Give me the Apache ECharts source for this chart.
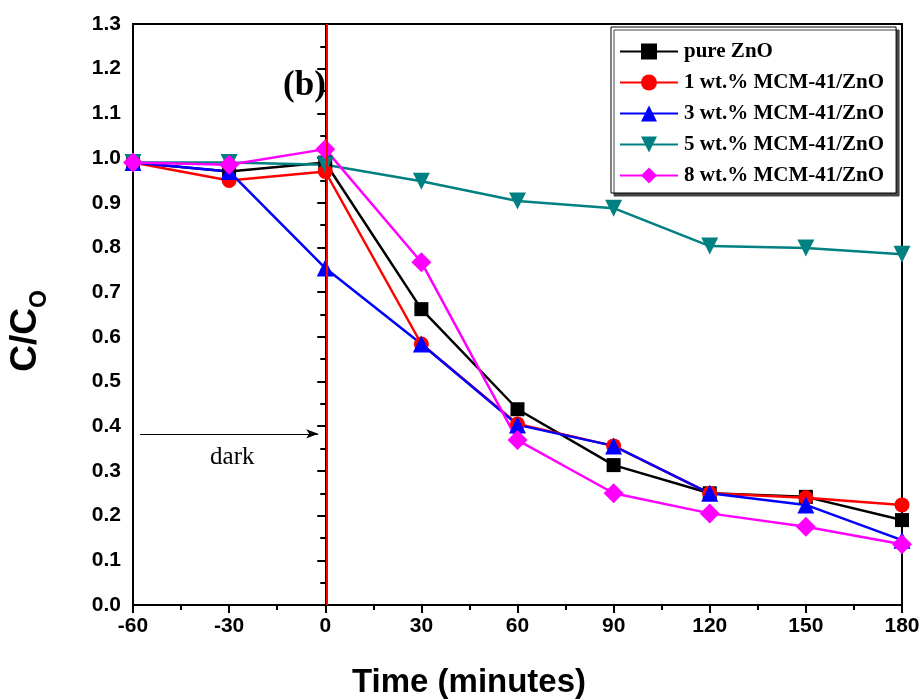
<!DOCTYPE html>
<html>
<head>
<meta charset="utf-8">
<script src="https://cdn.jsdelivr.net/npm/echarts@6/dist/echarts.min.js"></script>
<style>
  html,body{margin:0;padding:0;background:#fff;}
  #chart{width:924px;height:700px;}
</style>
</head>
<body>
<div id="chart"></div>
<script>
// ========= 数据 =========
const times = [-60, -30, 0, 30, 60, 90, 120, 150, 180];
const pureZnO = [0.99, 0.97, 0.99, 0.662, 0.438, 0.313, 0.25, 0.242, 0.19];
const mcm1 = [0.99, 0.95, 0.97, 0.584, 0.405, 0.356, 0.25, 0.24, 0.224];
const mcm3 = [0.99, 0.97, 0.754, 0.584, 0.403, 0.356, 0.25, 0.224, 0.145];
const mcm5 = [0.99, 0.99, 0.985, 0.948, 0.904, 0.888, 0.803, 0.799, 0.785];
const mcm8 = [0.99, 0.985, 1.02, 0.767, 0.369, 0.25, 0.205, 0.175, 0.136];
const seriesNames = ["pure ZnO", "1 wt.% MCM-41/ZnO", "3 wt.% MCM-41/ZnO", "5 wt.% MCM-41/ZnO", "8 wt.% MCM-41/ZnO"];

const chart = echarts.init(document.getElementById("chart"));

const pair = arr => times.map((t, i) => [t, arr[i]]);

function mkSeries(name, arr, color, symbol, size, rotate){
    return {
        name,
        type: "line",
        data: pair(arr),
        symbol,
        symbolSize: size,
        symbolRotate: rotate || 0,
        lineStyle: {color, width: 2.5},
        itemStyle: {color},
        emphasis: {disabled: true},
        animation: false
    };
}

const series = [
    mkSeries(seriesNames[0], pureZnO, "#000000", "rect", 14),
    mkSeries(seriesNames[1], mcm1, "#ff0000", "circle", 15),
    mkSeries(seriesNames[2], mcm3, "#0000ff", "triangle", 17),
    mkSeries(seriesNames[3], mcm5, "#008080", "triangle", 17, 180),
    mkSeries(seriesNames[4], mcm8, "#ff00ff", "diamond", 20)
];

// 标记线: 红色竖线 + dark 箭头
series[0].markLine = {
    silent: true,
    animation: false,
    label: {show: false},
    data: [
        [{coord: [0.6, 0], symbol: "none", lineStyle: {color: "#ff0000", width: 2, type: "solid"}},
         {coord: [0.6, 1.3], symbol: "none"}],
        [{coord: [-57.8, 0.383], symbol: "none", lineStyle: {color: "#000", width: 1, type: "solid"}},
         {coord: [-2.2, 0.383], symbol: "arrow", symbolSize: [7, 12]}]
    ]
};
series[0].markPoint = {
    silent: true,
    animation: false,
    symbolSize: 0,
    data: [
        {coord: [-29, 0.33], label: {show: true, formatter: "dark", color: "#000", fontFamily: "Liberation Serif", fontSize: 25}},
        {coord: [-6.5, 1.162], label: {show: true, formatter: "(b)", color: "#000", fontFamily: "Liberation Serif", fontWeight: "bold", fontSize: 35}}
    ]
};

const axisFont = {color: "#000", fontFamily: "Liberation Sans", fontWeight: "bold", fontSize: 21};

chart.setOption({
    backgroundColor: "#fff",
    animation: false,
    grid: {left: 133, right: 22, top: 24, bottom: 95, show: true, borderColor: "#000", borderWidth: 2},
    legend: {
        orient: "vertical",
        left: 611,
        top: 27,
        padding: [14, 12, 7, 8],
        itemGap: 10,
        itemWidth: 58,
        itemHeight: 20,
        backgroundColor: "#fff",
        borderColor: "#000",
        borderWidth: 1,
        shadowColor: "#444",
        shadowOffsetX: 3,
        shadowOffsetY: 3,
        shadowBlur: 0,
        textStyle: {color: "#000", fontFamily: "Liberation Serif", fontWeight: "bold", fontSize: 21, lineHeight: 21, padding: [0, 0, 0, 1]},
        data: seriesNames
    },
    graphic: [
        {
            type: "text",
            x: 29, y: 331,
            rotation: Math.PI / 2,
            silent: true,
            style: {
                text: "{a|C/C}{b|O}",
                align: "center",
                verticalAlign: "middle",
                rich: {
                    a: {fill: "#000", fontFamily: "Liberation Sans", fontWeight: "bold", fontSize: 37, lineHeight: 44, verticalAlign: "top"},
                    b: {fill: "#000", fontFamily: "Liberation Sans", fontWeight: "bold", fontSize: 23, lineHeight: 44, verticalAlign: "bottom"}
                }
            }
        },
        {
            type: "text",
            x: 469, y: 683,
            silent: true,
            style: {
                text: "Time (minutes)",
                fill: "#000",
                font: "bold 33px 'Liberation Sans'",
                align: "center",
                verticalAlign: "middle"
            }
        }
    ],
    xAxis: {
        type: "value",
        min: -60,
        max: 180,
        interval: 30,
        axisLine: {lineStyle: {color: "#000", width: 2}},
        axisTick: {inside: false, length: 8, lineStyle: {color: "#000", width: 2}},
        minorTick: {show: true, splitNumber: 2, length: 5, lineStyle: {color: "#000", width: 2}},
        axisLabel: Object.assign({margin: 11}, axisFont),
        splitLine: {show: false}
    },
    yAxis: {
        type: "value",
        min: 0,
        max: 1.3,
        interval: 0.1,
        axisLine: {lineStyle: {color: "#000", width: 2}},
        axisTick: {inside: false, length: 8, lineStyle: {color: "#000", width: 2}},
        minorTick: {show: true, splitNumber: 2, length: 5, lineStyle: {color: "#000", width: 2}},
        axisLabel: Object.assign({margin: 12, formatter: v => v.toFixed(1)}, axisFont),
        splitLine: {show: false}
    },
    series
});
</script>
</body>
</html>
